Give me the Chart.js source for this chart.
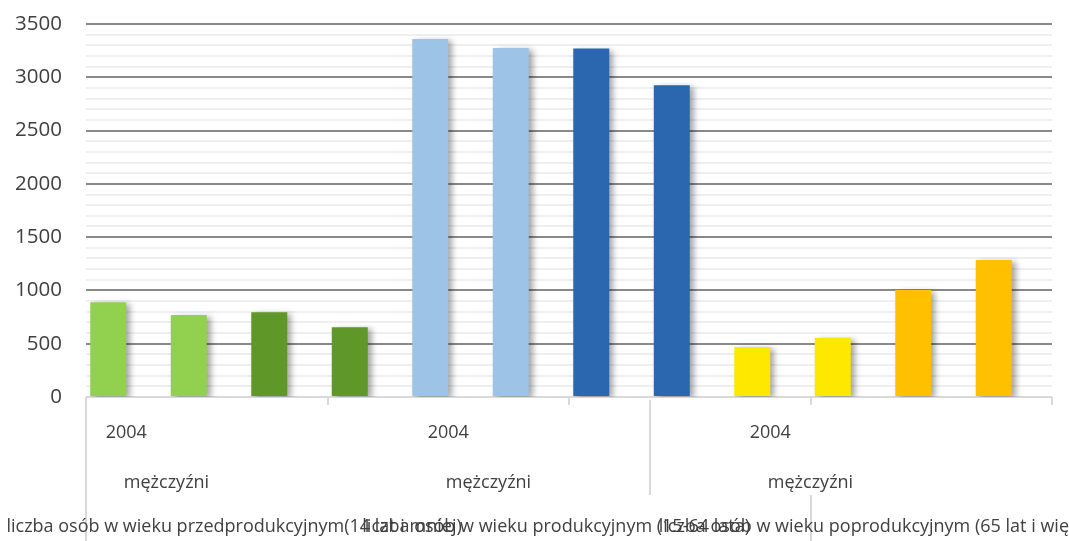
<!DOCTYPE html>
<html lang="pl">
<head>
    <meta charset="UTF-8">
    <title>Ludność według grup wieku</title>
    <script src="https://cdn.jsdelivr.net/npm/chart.js@4/dist/chart.umd.min.js"></script>
    <style>
        body { margin: 0; background: #fff; }
    </style>
</head>
<body>
    <div style="width: 1069px; height: 541px;">
        <canvas id="myChart" width="1069" height="541"></canvas>
    </div>

<script type="text/javascript">
    // dane z wykresu
    let categories = ['1', '2', '3', '4', '5', '6', '7', '8', '9', '10', '11', '12'];
    let values = [890, 770, 795, 655, 3360, 3275, 3270, 2925, 470, 555, 1005, 1285];
    let emptySeries = [null, null, null, null, null, null, null, null, null, null, null, null];
    let barColors = ['#92d050', '#92d050', '#5f9728', '#5f9728',
                     '#9dc3e6', '#9dc3e6', '#2a67ae', '#2a67ae',
                     '#ffe800', '#ffe800', '#ffc000', '#ffc000'];
    let yearLabels = ['2004', '2004', '2004'];
    let sexLabels = ['mężczyźni', 'mężczyźni', 'mężczyźni'];
    let groupLabels = ['liczba osób w wieku przedprodukcyjnym(14 lat i mniej)',
                       'liczba osób w wieku produkcyjnym (15-64 lata)',
                       'liczba osób w wieku poprodukcyjnym (65 lat i więcej)'];

    const textColor = '#404040';
    const lineColor = '#d9d9d9';

    // cień pod słupkami jak w Excelu
    let shadowPlugin = {
        id: 'barShadow',
        beforeDatasetsDraw(chart) {
            let ctx = chart.ctx;
            ctx.save();
            ctx.shadowColor = 'rgba(0,0,0,0.35)';
            ctx.shadowBlur = 6;
            ctx.shadowOffsetX = 4;
            ctx.shadowOffsetY = 2;
        },
        afterDatasetsDraw(chart) {
            chart.ctx.restore();
        }
    };

    // etykiety wielopoziomowej osi X
    let axisPlugin = {
        id: 'multiAxis',
        afterDraw(chart) {
            let ctx = chart.ctx;
            let x = chart.scales.x;
            let bottom = chart.chartArea.bottom;
            let H = chart.height;
            ctx.save();
            ctx.strokeStyle = lineColor;
            ctx.lineWidth = 2;
            let vline = (idx, y1, y2) => {
                let px = Math.round(x.getPixelForValue(idx));
                ctx.beginPath();
                ctx.moveTo(px, y1);
                ctx.lineTo(px, y2);
                ctx.stroke();
            };
            vline(-0.5, bottom, H);
            [2.5, 5.5, 8.5, 11.5].forEach(i => vline(i, bottom, bottom + 8));
            vline(6.5, bottom + 3, bottom + 98);
            vline(8.5, bottom + 98, H);

            ctx.fillStyle = textColor;
            ctx.textAlign = 'center';
            ctx.textBaseline = 'middle';
            ctx.font = '18px "Open Sans"';
            yearLabels.forEach((t, k) => {
                ctx.fillText(t, x.getPixelForValue(k * 4), bottom + 36);
            });
            sexLabels.forEach((t, k) => {
                ctx.fillText(t, x.getPixelForValue(k * 4 + 0.5), bottom + 86);
            });
            groupLabels.forEach((t, k) => {
                ctx.fillText(t, x.getPixelForValue(k * 4 + 1.34), bottom + 130);
            });
            ctx.restore();
        }
    };

    let ctx = document.getElementById('myChart').getContext('2d');
    window.barChart = new Chart(ctx, {
        type: 'bar',
        data: {
            labels: categories,
            datasets: [{
                data: values,
                backgroundColor: barColors,
                categoryPercentage: 0.894,
                barPercentage: 1.0
            }, {
                data: emptySeries,
                categoryPercentage: 0.894,
                barPercentage: 1.0
            }]
        },
        options: {
            responsive: false,
            animation: false,
            layout: { padding: { top: 24, right: 17, left: 0, bottom: 0 } },
            plugins: {
                legend: { display: false },
                tooltip: { enabled: false }
            },
            scales: {
                x: {
                    grid: { display: false },
                    border: { display: false },
                    ticks: { display: false },
                    afterFit: s => { s.height = 144; }
                },
                y: {
                    min: 0,
                    max: 3500,
                    border: { display: false },
                    grid: {
                        drawTicks: false,
                        lineWidth: 2,
                        color: c => {
                            if (c.tick.value === 0) return lineColor;
                            return c.tick.value % 500 === 0 ? '#898989' : '#efefef';
                        }
                    },
                    ticks: {
                        stepSize: 100,
                        autoSkip: false,
                        padding: 24,
                        color: textColor,
                        font: { family: 'Open Sans', size: 20.5 },
                        callback: v => (v % 500 === 0 ? String(v) : '')
                    },
                    afterFit: s => {
                        s.width = 86;
                        s.paddingTop = 0;
                        s.paddingBottom = 0;
                    }
                }
            }
        },
        plugins: [shadowPlugin, axisPlugin]
    });
</script>
</body>
</html>
